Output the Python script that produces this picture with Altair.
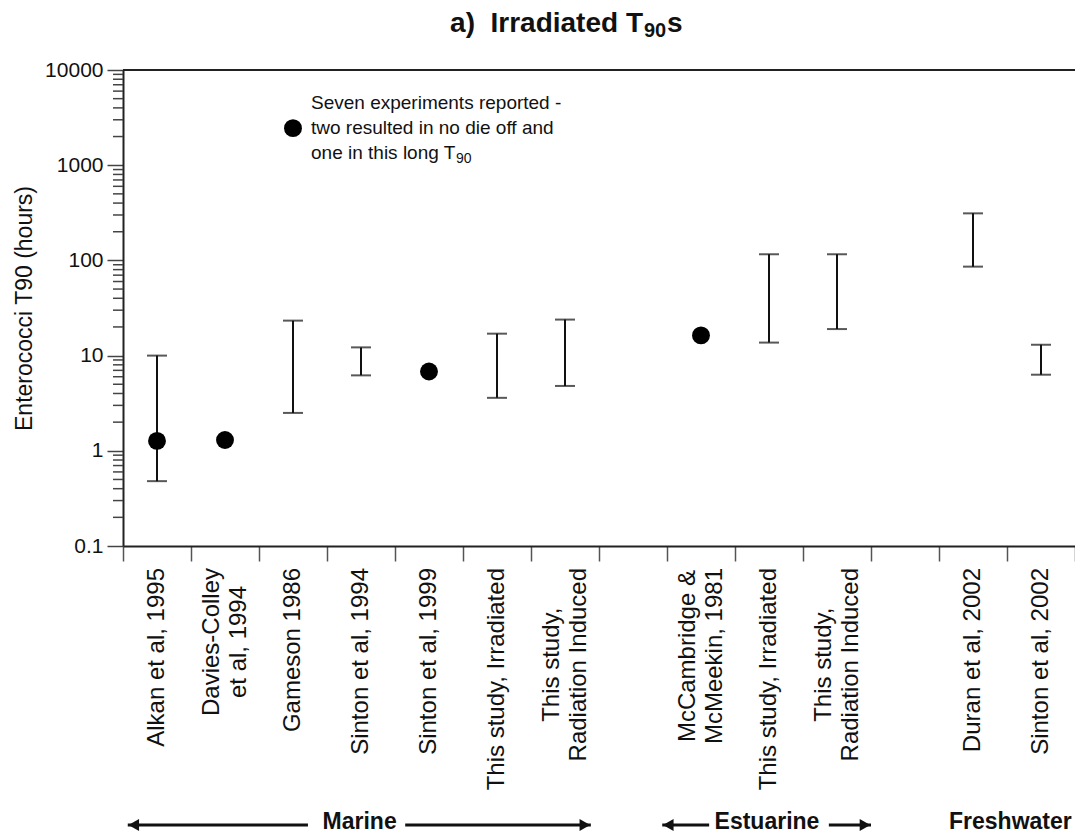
import altair as alt
import pandas as pd

W, H = 952, 476
FONT = "Liberation Sans"
LABEL_SIZE = 24

# ---- data ----
slot_labels = [
    "Alkan et al, 1995",
    "Davies-Colley\net al, 1994",
    "Gameson 1986",
    "Sinton et al, 1994",
    "Sinton et al, 1999",
    "This study, Irradiated",
    "This study,\nRadiation Induced",
    "",
    "McCambridge &\nMcMeekin, 1981",
    "This study, Irradiated",
    "This study,\nRadiation Induced",
    "",
    "Duran et al, 2002",
    "Sinton et al, 2002",
]
bar_slot = [0, 2, 3, 5, 6, 9, 10, 12, 13]
bar_low = [0.48, 2.5, 6.2, 3.6, 4.8, 13.7, 19, 86, 6.3]
bar_high = [10, 23.3, 12.2, 17, 23.9, 116, 116, 312, 13]

dot_slot = [0, 1, 4, 8]
dot_value = [1.27, 1.3, 6.8, 16.3]

note_slot = [2]
note_value = [2450]
note_lines = ["Seven experiments reported -", "two resulted in no die off and", "one in this long T"]

y_major = [0.1, 1, 10, 100, 1000, 10000]
y_minor = [m * d for d in [0.1, 1, 10, 100, 1000] for m in range(2, 10)]

group_names = ["Marine", "Estuarine", "Freshwater"]
group_center = [3.48, 9.47, 13.05]
arrow_from = [0.07, 4.15, 7.93, 10.38]
arrow_to = [2.72, 6.88, 8.62, 11.0]
arrow_left_tips = [0.07, 7.93]
arrow_right_tips = [6.88, 11.0]

# approximate Helvetica/Arial advance widths (per em) to centre two-line labels
_adv = {" ": .278, "&": .667, ",": .278, "-": .333, "C": .722, "D": .722, "I": .278,
        "M": .833, "R": .722, "T": .611, "a": .556, "b": .556, "c": .5, "d": .556,
        "e": .556, "g": .556, "h": .556, "i": .222, "k": .5, "l": .222, "m": .833,
        "n": .556, "o": .556, "r": .333, "s": .5, "t": .278, "u": .556, "v": .5, "y": .5}

def text_len(s):
    return sum(_adv.get(c, .556) for c in s) * LABEL_SIZE

# ---- tables ----
bars_df = pd.DataFrame({"x": [s + 0.5 for s in bar_slot], "lo": bar_low, "hi": bar_high})
dots_df = pd.DataFrame({"x": [s + 0.5 for s in dot_slot], "v": dot_value})
note_df = pd.DataFrame({"x": [s + 0.5 for s in note_slot], "v": note_value,
                        "t": ["\n".join(note_lines)], "sub": ["90"]})
single_df = pd.DataFrame({"x": [i + 0.5 for i, l in enumerate(slot_labels) if "\n" not in l],
                          "label": [l for l in slot_labels if "\n" not in l]})
minor_df = pd.DataFrame({"v": y_minor})
groups_df = pd.DataFrame({"x": group_center, "name": group_names})
arrows_df = pd.DataFrame({"a": arrow_from, "b": arrow_to})
ltips_df = pd.DataFrame({"x": arrow_left_tips})
rtips_df = pd.DataFrame({"x": arrow_right_tips})
one = pd.DataFrame({"k": [0]})

xs = alt.Scale(domain=[0, 14], nice=False, zero=False)
ys = alt.Scale(type="log", domain=[0.1, 10000], nice=False)

xaxis = alt.Axis(values=list(range(15)), labels=False, title=None, tickSize=15,
                 tickWidth=1.5, tickColor="#555", domainColor="#222", domainWidth=2,
                 grid=False)
yaxis = alt.Axis(values=y_major, format="~g", title="Enterococci T90 (hours)",
                 tickSize=16, tickWidth=1.5, tickColor="#444", domainColor="#222",
                 domainWidth=2, grid=False, labelFontSize=21, labelColor="#111",
                 labelPadding=4, titleFontSize=23, titleFontWeight="normal",
                 titleColor="#111", titlePadding=8)

def X(field="x"):
    return alt.X(f"{field}:Q", scale=xs, axis=xaxis)

def Y(field):
    return alt.Y(f"{field}:Q", scale=ys, axis=yaxis)

minor = alt.Chart(minor_df).mark_rule(color="#444", strokeWidth=1.5).encode(
    y=Y("v"), x=alt.value(-10), x2=alt.value(0))

bars = alt.Chart(bars_df).mark_rule(color="#111", strokeWidth=2).encode(
    x=X(), y=Y("lo"), y2="hi:Q")
cap_lo = alt.Chart(bars_df).mark_tick(orient="horizontal", size=20, thickness=2, color="#111").encode(
    x=X(), y=Y("lo"))
cap_hi = alt.Chart(bars_df).mark_tick(orient="horizontal", size=20, thickness=2, color="#111").encode(
    x=X(), y=Y("hi"))

dots = alt.Chart(dots_df).mark_circle(size=320, color="#000", opacity=1).encode(x=X(), y=Y("v"))
note_dot = alt.Chart(note_df).mark_circle(size=320, color="#000", opacity=1).encode(x=X(), y=Y("v"))
note_text = alt.Chart(note_df).mark_text(
    align="left", baseline="middle", dx=18, dy=-25, fontSize=19, lineHeight=25, lineBreak="\n",
    color="#111", font=FONT).encode(x=X(), y=Y("v"), text="t:N")
note_sub = alt.Chart(note_df).mark_text(
    align="left", baseline="middle", dx=163, dy=31, fontSize=14, color="#111", font=FONT).encode(
    x=X(), y=Y("v"), text="sub:N")

label_layers = [alt.Chart(single_df).mark_text(
    angle=270, align="right", baseline="middle", fontSize=LABEL_SIZE,
    color="#111", font=FONT).encode(x=X(), y=alt.value(H + 22), text="label:N")]
for i, lab in enumerate(slot_labels):
    if "\n" not in lab:
        continue
    half = max(text_len(p) for p in lab.split("\n")) / 2
    d = pd.DataFrame({"x": [i + 0.5], "label": [lab]})
    label_layers.append(alt.Chart(d).mark_text(
        angle=270, align="center", baseline="middle", fontSize=LABEL_SIZE, lineHeight=27,
        lineBreak="\n", dy=-13.5, color="#111", font=FONT).encode(
        x=X(), y=alt.value(H + 22 + half), text="label:N"))

top_border = alt.Chart(one).mark_rule(color="#222", strokeWidth=2).encode(
    x=alt.value(0), x2=alt.value(W), y=alt.value(0))

title_main = alt.Chart(one).mark_text(
    align="right", baseline="alphabetic", fontSize=28, fontWeight="bold", color="#111", font=FONT,
    text="a)\u00a0 Irradiated T").encode(x=alt.value(520), y=alt.value(-38))
title_sub = alt.Chart(one).mark_text(
    align="left", baseline="alphabetic", fontSize=20, fontWeight="bold", color="#111", font=FONT,
    text="90").encode(x=alt.value(521), y=alt.value(-33))
title_s = alt.Chart(one).mark_text(
    align="left", baseline="alphabetic", fontSize=28, fontWeight="bold", color="#111", font=FONT,
    text="s").encode(x=alt.value(544), y=alt.value(-38))

GY = 752
groups = alt.Chart(groups_df).mark_text(
    align="center", baseline="middle", fontSize=23, fontWeight="bold", color="#111", font=FONT).encode(
    x=X(), y=alt.value(GY), text="name:N")
arrows = alt.Chart(arrows_df).mark_rule(color="#111", strokeWidth=3).encode(
    x=X("a"), x2="b:Q", y=alt.value(GY + 3))
ltips = alt.Chart(ltips_df).mark_point(shape="triangle-left", filled=True, size=150, opacity=1,
                                        color="#111", xOffset=6).encode(x=X(), y=alt.value(GY + 3))
rtips = alt.Chart(rtips_df).mark_point(shape="triangle-right", filled=True, size=150, opacity=1,
                                        color="#111", xOffset=-6).encode(x=X(), y=alt.value(GY + 3))

chart = alt.layer(
    minor, bars, cap_lo, cap_hi, dots, note_dot, note_text, note_sub, *label_layers,
    top_border, title_main, title_sub, title_s, groups, arrows, ltips, rtips
).properties(
    width=W, height=H,
    padding={"left": 123, "top": 70, "right": 0, "bottom": 290},
    autosize=alt.AutoSizeParams(type="none"),
).configure(font=FONT).configure_view(stroke=None)

chart.save("out.html", embed_options={"renderer": "svg", "actions": False})
